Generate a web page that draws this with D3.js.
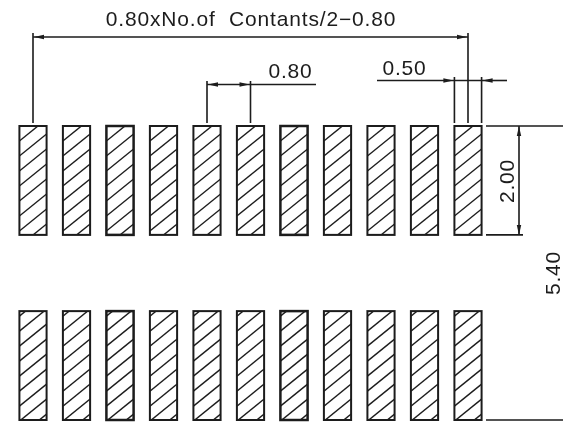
<!DOCTYPE html>
<html>
<head>
<meta charset="utf-8">
<script src="https://cdn.jsdelivr.net/npm/d3@7"></script>
<style>
  html, body { margin: 0; padding: 0; background: #fff; }
  text { font-family: "Liberation Sans", Arial, sans-serif; fill: #1c1c1c; letter-spacing: 0.8px; white-space: pre; }
</style>
</head>
<body>
<div id="chart"></div>
<script>
// all values in mm
const padIndex = [0, 1, 2, 3, 4, 5, 6, 7, 8, 9, 10];
const heavyPads = [2, 6];
const pitch = 0.8;
const padWidth = 0.5;
const padLength = 2.0;
const rowSpan = 5.4;
const rowTops = [0, rowSpan - padLength];
const hatchStart = [15, 5]; // first hatch crossing on the left edge, per row

const overallLabel = "0.80xNo.of  Contants/2\u22120.80";
const pitchLabel = "0.80";
const widthLabel = "0.50";
const lengthLabel = "2.00";
const spanLabel = "5.40";

const width = 563, height = 430;

const x = d3.scaleLinear().domain([0, 8]).range([33, 468]);
const y = d3.scaleLinear().domain([0, rowSpan]).range([126, 420]);

const padW = x(padWidth) - x(0);
const padH = y(padLength) - y(0);
const ink = "#1c1c1c";

const svg = d3.select("#chart").append("svg")
  .attr("width", width)
  .attr("height", height)
  .style("display", "block");

const defs = svg.append("defs");
defs.append("clipPath").attr("id", "padClip")
  .append("rect").attr("width", padW).attr("height", padH);
defs.append("filter").attr("id", "soft")
  .append("feGaussianBlur").attr("stdDeviation", 0.4);

const root = svg.append("g").attr("filter", "url(#soft)");

// pads
rowTops.forEach((top, r) => {
  const pads = root.append("g").selectAll("g")
    .data(padIndex)
    .join("g")
    .attr("transform", d => "translate(" + (x(d * pitch) - padW / 2) + "," + y(top) + ")");

  pads.append("g")
    .attr("clip-path", "url(#padClip)")
    .selectAll("line")
    .data(d3.range(hatchStart[r], padH + 30, 15))
    .join("line")
    .attr("x1", 0).attr("y1", d => d)
    .attr("x2", padW).attr("y2", d => d - 22)
    .attr("stroke", ink).attr("stroke-width", 1.4);

  pads.append("rect")
    .attr("width", padW).attr("height", padH)
    .attr("fill", "none")
    .attr("stroke", ink)
    .attr("stroke-width", d => heavyPads.includes(d) ? 2.5 : 2);
});

function seg(x1, y1, x2, y2) {
  root.append("line")
    .attr("x1", x1).attr("y1", y1).attr("x2", x2).attr("y2", y2)
    .attr("stroke", ink).attr("stroke-width", 1.6);
}

// dir: +1 arrow points to the right, -1 to the left
function arrow(tipX, yy, dir) {
  root.append("path")
    .attr("d", d3.line()([[tipX, yy], [tipX - dir * 10, yy - 2.2], [tipX - dir * 10, yy + 2.2]]) + "Z")
    .attr("fill", ink);
}

// the drawing's lettering is wider than the font, so stretch it a little
function label(txt, cx, cy, rotate) {
  root.append("text")
    .attr("transform", "translate(" + cx + "," + cy + ")" + (rotate ? " rotate(-90)" : "") + " scale(1.05,1)")
    .attr("text-anchor", "middle")
    .attr("font-size", 20)
    .text(txt);
}

// overall width
const xFirst = x(0), xLast = x(10 * pitch);
seg(xFirst, 33, xFirst, 123);
seg(xLast, 33, xLast, 123);
seg(xFirst, 37, xLast, 37);
arrow(xFirst + 1, 37, -1);
arrow(xLast - 1, 37, 1);
label(overallLabel, 251, 25.5);

// pitch
const xP0 = x(4 * pitch), xP1 = x(5 * pitch);
seg(xP0, 81, xP0, 123);
seg(xP1, 81, xP1, 123);
seg(xP0, 84.5, 316, 84.5);
arrow(xP0 + 1, 84.5, -1);
arrow(xP1 - 1, 84.5, 1);
label(pitchLabel, 290.5, 78);

// pad width
const xW0 = xLast - padW / 2, xW1 = xLast + padW / 2;
seg(xW0, 77, xW0, 123);
seg(xW1, 77, xW1, 123);
seg(377, 80.5, xW1, 80.5);
seg(xW1, 80.5, 507, 80.5);
arrow(xW0 - 1, 80.5, 1);
arrow(xW1 + 1, 80.5, -1);
label(widthLabel, 404.5, 75);

// pad length and row span
seg(486, y(0), width, y(0));
seg(486, y(padLength), 523, y(padLength));
seg(486, y(rowSpan), width, y(rowSpan));
seg(519, y(0), 519, y(padLength));
root.append("path")
  .attr("d", d3.line()([[519, y(0)], [516.8, y(0) + 10], [521.2, y(0) + 10]]) + "Z")
  .attr("fill", ink);
root.append("path")
  .attr("d", d3.line()([[519, y(padLength)], [516.8, y(padLength) - 10], [521.2, y(padLength) - 10]]) + "Z")
  .attr("fill", ink);
label(lengthLabel, 514, 181, true);
label(spanLabel, 560, 273, true);
</script>
</body>
</html>
